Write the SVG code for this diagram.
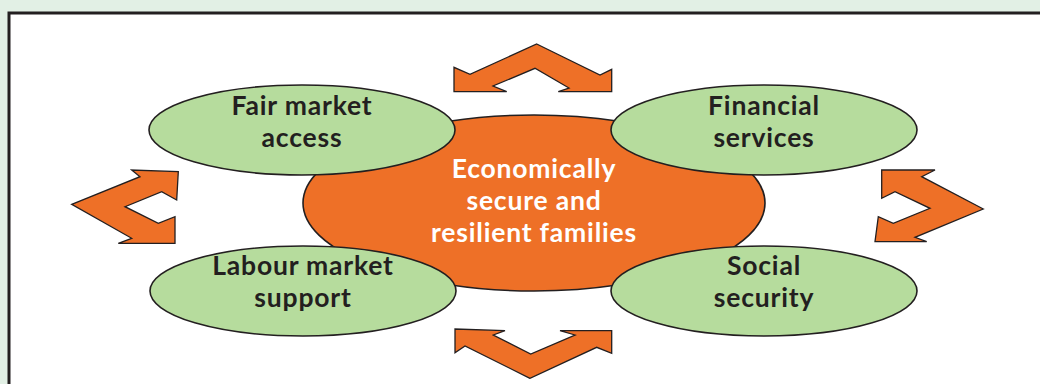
<svg xmlns="http://www.w3.org/2000/svg" width="1040" height="384" viewBox="0 0 1040 384">
<style>
.arrow{fill:#ee7027;stroke:#231f20;stroke-width:1.3;stroke-linejoin:miter}
.leaf{fill:#b6dc9d;stroke:#231f20;stroke-width:1.6}
.hub{fill:#ee7027;stroke:#231f20;stroke-width:1.6}
.t{font-family:Lato,"Open Sans","Liberation Sans",sans-serif;font-weight:bold;font-size:26.5px;letter-spacing:0.8px;text-anchor:middle;fill:#231f20}
.w{fill:#ffffff}
</style>
<rect x="0" y="0" width="1040" height="384" fill="#e2f0e5"/>
<rect x="9" y="13" width="1040" height="380" fill="#ffffff" stroke="#231f20" stroke-width="3"/>
<g id="connectors">
<polygon class="arrow" points="536.7,44 600,75 611.7,69.3 611.7,91.7 558.3,91.7 569,88 535,68.3 493,86 506.7,91.7 454,91.7 454,67.3 470,74.3"/>
<polygon class="arrow" points="530,378.3 465,346 455,352.7 455,329 505,330.7 493.3,335 530.7,354 575,335 560,330.7 611.7,330.7 611.7,353.3 596.7,347.3"/>
<polygon class="arrow" points="71.7,204.3 140,176.7 131.7,170 178.3,171.7 176.7,200 161.7,191.7 125,206.7 158.3,223.3 175,216.7 175,243.3 118.3,243.3 131.7,238.3"/>
<polygon class="arrow" points="983.3,209 921.7,176.7 935,170 881.7,170 881.7,198.3 895,191.7 930,208.3 893.3,223.3 878.3,216.7 875,241.7 926.7,241.7 915,237.3"/>
</g>
<g id="hub">
<ellipse class="hub" cx="534" cy="203" rx="231" ry="88"/>
</g>
<g id="fair-market-access">
<ellipse class="leaf" cx="302" cy="130" rx="153" ry="45"/>
<text class="t" x="302" y="115">Fair market</text>
<text class="t" x="302" y="147">access</text>
</g>
<g id="financial-services">
<ellipse class="leaf" cx="764" cy="130" rx="153" ry="45"/>
<text class="t" x="764" y="115">Financial</text>
<text class="t" x="764" y="147">services</text>
</g>
<g id="labour-market-support">
<ellipse class="leaf" cx="303" cy="291" rx="153" ry="45"/>
<text class="t" x="303" y="275">Labour market</text>
<text class="t" x="303" y="307">support</text>
</g>
<g id="social-security">
<ellipse class="leaf" cx="764" cy="291" rx="153" ry="45"/>
<text class="t" x="764" y="275">Social</text>
<text class="t" x="764" y="307">security</text>
</g>
<g id="hub-label">
<text class="t w" x="534" y="178">Economically</text>
<text class="t w" x="534" y="210">secure and</text>
<text class="t w" x="534" y="242">resilient families</text>
</g>
</svg>
